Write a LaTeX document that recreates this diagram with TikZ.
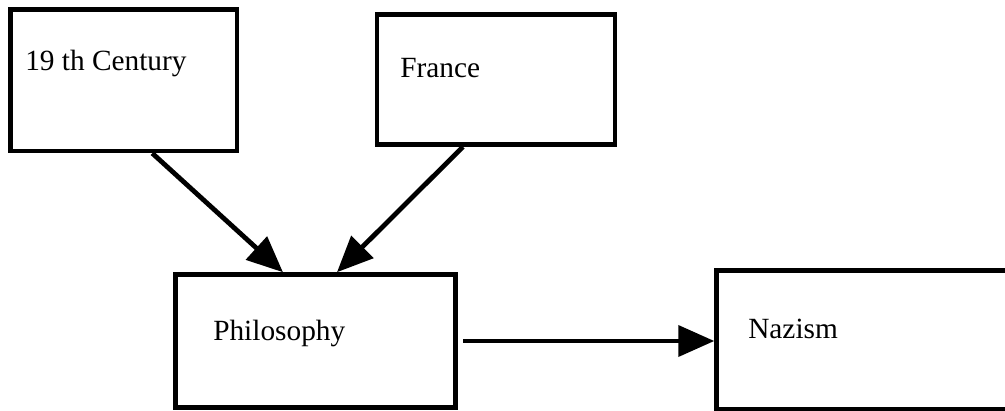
\documentclass[tikz,border=0pt]{standalone}
\usepackage{fontspec}
\setmainfont{Liberation Serif}
\usetikzlibrary{arrows.meta}
\begin{document}
\begin{tikzpicture}[x=0.75pt,y=-0.75pt,
  box/.style={draw=black,line width=3.4pt,fill=white,inner sep=0pt},
  lbl/.style={anchor=base west,inner sep=0pt,font=\fontsize{22}{26}\selectfont},
  conn/.style={line width=3.6pt,-{Triangle[length=27pt,width=23pt]}}]
\useasboundingbox (0,0) rectangle (1005,410);
\clip (0,0) rectangle (1005,410);
\node[box,minimum width=169.9pt,minimum height=106.1pt] (b1) at (123.75,80.25) {};
\node[box,minimum width=178.5pt,minimum height=97.5pt] (b2) at (496,79.5) {};
\node[box,minimum width=210pt,minimum height=99.75pt] (b3) at (315.5,341) {};
\node[box,minimum width=235pt,minimum height=103.9pt] (b4) at (873.25,339.75) {};
\node[lbl] (t1) at (25,70) {19 th Century};
\node[lbl] (t2) at (400,78) {France};
\node[lbl] (t3) at (213,340) {Philosophy};
\node[lbl] (t4) at (748,338) {Nazism};
\draw[conn] ([xshift=21.4pt]b1.south) -- ([xshift=-24.4pt]b3.north);
\draw[conn] ([xshift=-24.75pt]b2.south) -- ([xshift=16.1pt]b3.north);
\draw[conn] ([xshift=4pt]b3.east) -- (b3.east -| b4.west);
\end{tikzpicture}
\end{document}
